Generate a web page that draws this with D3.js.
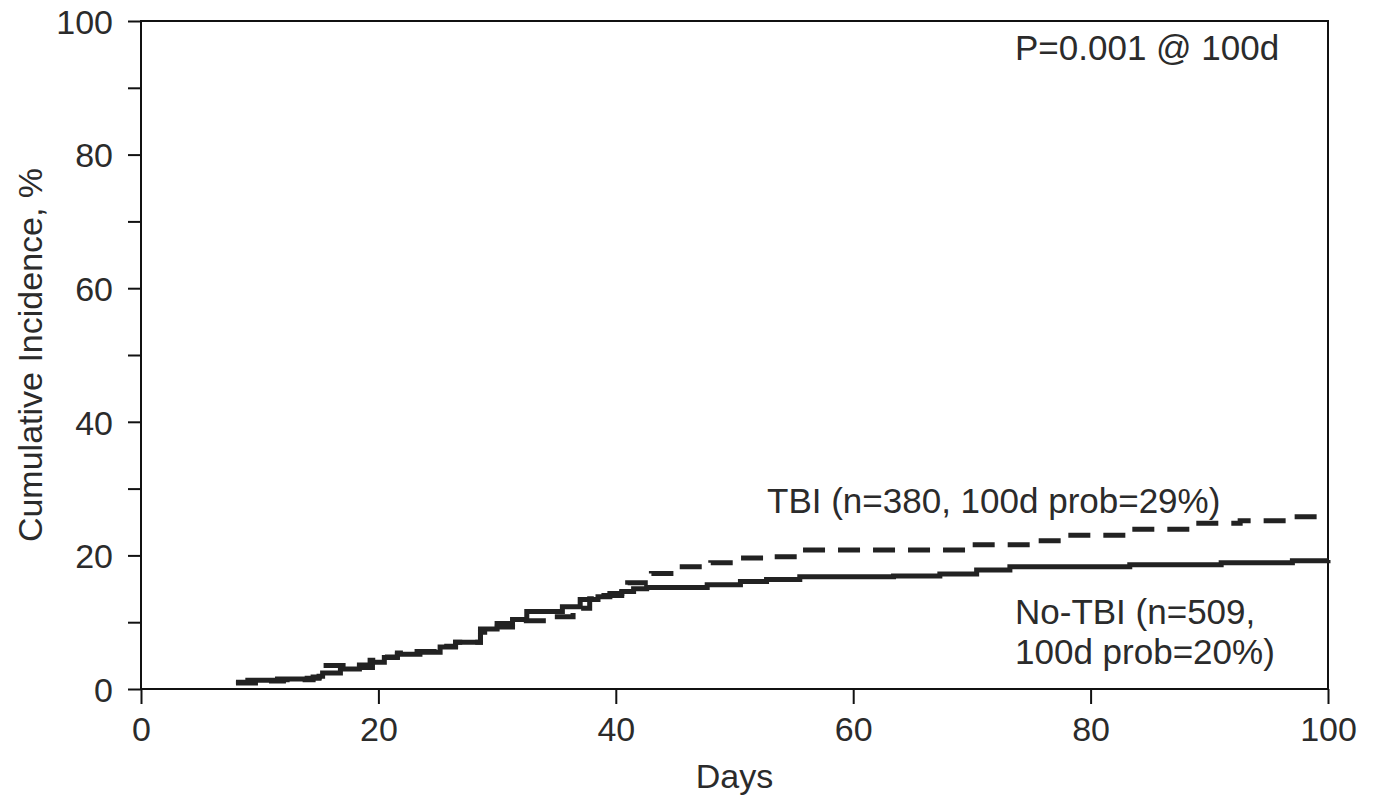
<!DOCTYPE html>
<html>
<head>
<meta charset="utf-8">
<script src="https://cdn.jsdelivr.net/npm/d3@7"></script>
<style>
  body { margin: 0; background: #fff; }
  text { font-family: "Liberation Sans", Arial, sans-serif; fill: #2b2b2b; }
</style>
</head>
<body>
<script>
// cumulative incidence step points: [day, percent]
const noTbiDays = [8, 9, 11.5, 14, 15, 15.3, 16.8, 18.4, 19.5, 20.5, 21.6, 23.5, 25.2, 26.5, 28.6, 30, 31.3, 32.5, 35.5, 37, 38.5, 39.5, 40.5, 41.5, 42.6, 47.7, 50.5, 52.7, 55.5, 63.4, 67.3, 70.4, 73.2, 83.3, 91, 97, 100];
const noTbiPct = [1.0, 1.3, 1.5, 1.6, 1.9, 2.4, 3.0, 3.2, 4.0, 4.7, 5.2, 5.5, 6.3, 7.0, 9.0, 9.8, 10.4, 11.6, 12.3, 13.4, 13.8, 14.3, 14.6, 15.0, 15.2, 15.6, 16.1, 16.4, 16.8, 16.9, 17.2, 17.8, 18.3, 18.6, 18.9, 19.2, 19.3];

const tbiDays = [8, 10, 12, 14.5, 15.3, 18.4, 19.3, 20.5, 21.6, 23, 25, 26.5, 28.6, 29.5, 31.3, 34.5, 36.4, 37.8, 39, 40.5, 41, 43, 45, 48, 50.3, 53, 55.5, 69.8, 75.5, 78, 83.3, 88.6, 92.6, 97.4, 100];
const tbiPct = [0.9, 1.2, 1.4, 1.8, 3.5, 3.6, 4.3, 4.8, 5.4, 5.6, 6.4, 7.0, 8.5, 9.3, 10.2, 10.8, 12.1, 13.5, 14.0, 14.4, 15.9, 17.3, 18.3, 18.9, 19.6, 19.8, 20.8, 21.6, 22.2, 23.0, 23.9, 24.8, 25.2, 25.8, 26.0];

const xTicks = [0, 20, 40, 60, 80, 100];
const yTicks = [0, 10, 20, 30, 40, 50, 60, 70, 80, 90, 100];

const width = 1378, height = 802;
const margin = {top: 21, right: 50, bottom: 113, left: 141};

const svg = d3.select('body').append('svg')
    .attr('width', width)
    .attr('height', height);

const x = d3.scaleLinear().domain([0, 100]).range([margin.left, width - margin.right]);
const y = d3.scaleLinear().domain([0, 100]).range([height - margin.bottom, margin.top]);

//frame
svg.append('rect')
    .attr('x', x(0)).attr('y', y(100))
    .attr('width', x(100) - x(0)).attr('height', y(0) - y(100))
    .attr('fill', 'none').attr('stroke', '#111').attr('stroke-width', 2);

//y axis
const yAxis = svg.append('g')
    .attr('transform', `translate(${x(0)},0)`)
    .call(d3.axisLeft(y).tickValues(yTicks).tickSize(13).tickSizeOuter(0)
        .tickFormat(d => d % 20 === 0 ? d : ''));
yAxis.select('.domain').remove();
yAxis.selectAll('line').attr('stroke', '#111').attr('stroke-width', 2);
yAxis.selectAll('text').attr('x', -28).attr('dy', '0.36em')
    .style('font-size', '34px').attr('fill', '#2b2b2b');

//x axis
const xAxis = svg.append('g')
    .attr('transform', `translate(0,${y(0)})`)
    .call(d3.axisBottom(x).tickValues(xTicks).tickSize(15).tickSizeOuter(0));
xAxis.select('.domain').remove();
xAxis.selectAll('line').attr('stroke', '#111').attr('stroke-width', 2);
xAxis.selectAll('text').attr('y', 28)
    .style('font-size', '34px').attr('fill', '#2b2b2b');

//axis titles
svg.append('text')
    .attr('x', (x(0) + x(100)) / 2).attr('y', 788)
    .attr('text-anchor', 'middle')
    .style('font-size', '34px')
    .text('Days');

svg.append('text')
    .attr('transform', `translate(42,${(y(0) + y(100)) / 2}) rotate(-90)`)
    .attr('text-anchor', 'middle')
    .style('font-size', '34px')
    .text('Cumulative Incidence, %');

//curves
const line = d3.line()
    .x(d => x(d[0]))
    .y(d => y(d[1]))
    .curve(d3.curveStepAfter);

const noTbi = d3.zip(noTbiDays, noTbiPct);
const tbi = d3.zip(tbiDays, tbiPct);

svg.append('path')
    .datum(noTbi)
    .attr('d', line)
    .attr('fill', 'none')
    .attr('stroke', '#222')
    .attr('stroke-width', 5);

svg.append('path')
    .datum(tbi)
    .attr('d', line)
    .attr('fill', 'none')
    .attr('stroke', '#222')
    .attr('stroke-width', 5)
    .attr('stroke-dasharray', '22,13');

//annotations
svg.append('text')
    .attr('x', 1015).attr('y', 60)
    .style('font-size', '35px')
    .text('P=0.001 @ 100d');

svg.append('text')
    .attr('x', 767).attr('y', 513)
    .style('font-size', '35px')
    .text('TBI (n=380, 100d prob=29%)');

svg.append('text')
    .attr('x', 1015).attr('y', 624)
    .style('font-size', '35px')
    .text('No-TBI (n=509,');

svg.append('text')
    .attr('x', 1015).attr('y', 664)
    .style('font-size', '35px')
    .text('100d prob=20%)');
</script>
</body>
</html>
